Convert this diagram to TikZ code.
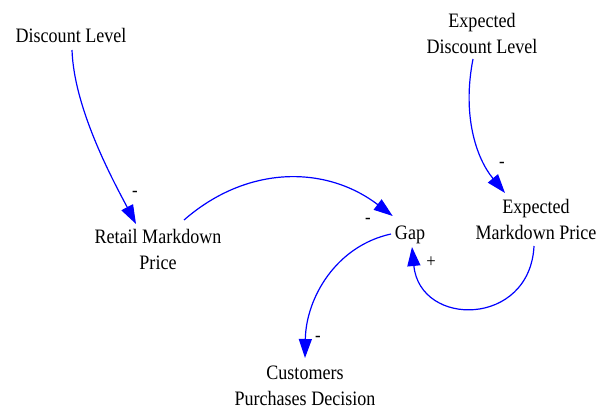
\documentclass[tikz,border=0pt]{standalone}
\usepackage{fontspec}
\setmainfont[FakeStretch=0.88]{Liberation Serif}
\usetikzlibrary{arrows.meta,calc}
\definecolor{linkblue}{RGB}{0,0,255}
\begin{document}
\begin{tikzpicture}[x=1pt,y=-1pt,
  var/.style={align=center,font=\fontsize{20.5}{26.5}\selectfont,inner sep=0pt},
  sign/.style={font=\fontsize{19}{22}\selectfont,inner sep=0pt},
  link/.style={draw=linkblue,line width=1.2pt,-{Triangle[length=19pt,width=13pt]}}]
\useasboundingbox[fill=white] (0,0) rectangle (609,412);
% variables
\node[var] (dl)  at (71,35)    {Discount Level};
\node[var] (edl) at (482,33.3) {Expected\\Discount Level};
\node[var] (rmp) at (158,249.5) {Retail Markdown\\Price};
\node[var] (gap) at (410,235.3) {Gap};
\node[var] (emp) at (536,219.5) {Expected\\Markdown Price};
\node[var] (cpd) at (305,385.7) {Customers\\Purchases Decision};
% links
\draw[link] ($(dl)+(1,15)$) .. controls +(2,60) and +(-21,-40) .. ($(rmp)+(-22,-25.5)$);
\draw[link] ($(rmp)+(26,-29.5)$) .. controls +(63,-55) and +(-67,-51) .. ($(gap)+(-17.3,-19.3)$);
\draw[link] ($(edl)+(-9,25.7)$) .. controls +(-11,56) and +(-29,-35) .. ($(emp)+(-31,-26.5)$);
\draw[link] ($(emp)+(-2,26.5)$) .. controls +(-4,81) and +(8,81) .. ($(gap)+(2,11.7)$);
\draw[link] ($(gap)+(-19,-1.3)$) .. controls +(-55,12) and +(1,-60) .. ($(cpd)+(0,-27.7)$);
% polarity signs
\node[sign] (s1) at (135,194) {-};
\node[sign] (s2) at (368,221) {-};
\node[sign] (s3) at (502,165) {-};
\node[sign] (s4) at (431,262) {+};
\node[sign] (s5) at (318,339) {-};
\end{tikzpicture}
\end{document}
